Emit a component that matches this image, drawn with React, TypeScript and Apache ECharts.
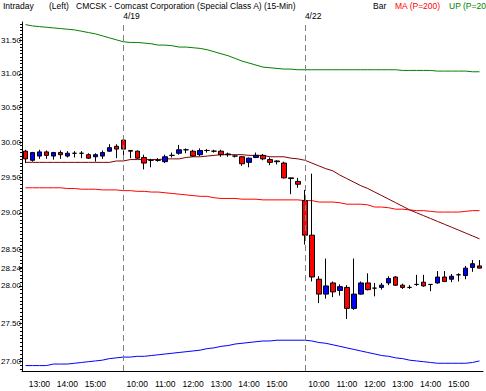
import React, { useEffect, useRef } from 'react';
import * as echarts from 'echarts';

// ---- data ----
const day1Times = ['12:30','12:45','13:00','13:15','13:30','13:45','14:00','14:15','14:30','14:45','15:00','15:15','15:30','15:45'];
const fullDayTimes = ['9:30','9:45','10:00','10:15','10:30','10:45','11:00','11:15','11:30','11:45','12:00','12:15','12:30','12:45','13:00','13:15','13:30','13:45','14:00','14:15','14:30','14:45','15:00','15:15','15:30','15:45'];
const sessionDates = ['4/18', '4/19', '4/22'];
const sessionTimes = [day1Times, fullDayTimes, fullDayTimes];

const opens = [29.87,29.74,29.80,29.86,29.80,29.85,29.80,29.84,29.84,29.82,29.79,29.80,29.87,29.94,
  30.03,29.88,29.87,29.78,29.74,29.74,29.72,29.81,29.84,29.89,29.87,29.82,29.88,29.87,29.87,29.83,29.80,29.79,29.71,29.78,29.81,29.75,29.73,29.70,29.49,29.44,
  29.17,28.69,28.09,27.89,28.04,27.94,27.98,27.70,27.89,28.04,27.97,27.98,28.04,28.12,28.01,27.98,28.02,28.05,28.02,28.04,28.12,28.09,28.15,28.14,28.25,28.27];
const highs = [29.89,29.86,29.89,29.88,29.86,29.88,29.87,29.87,29.87,29.84,29.84,29.88,29.97,29.97,
  30.08,29.88,29.88,29.82,29.76,29.77,29.82,29.85,29.96,29.91,29.89,29.91,29.90,29.89,29.89,29.85,29.81,29.80,29.78,29.85,29.83,29.78,29.74,29.72,29.49,29.49,
  29.32,29.55,28.13,28.37,28.06,28.02,28.01,28.37,28.06,28.17,28.04,28.04,28.13,28.13,28.03,28.01,28.15,28.15,28.02,28.20,28.20,28.16,28.17,28.27,28.35,28.35];
const lows = [29.70,29.72,29.76,29.76,29.75,29.76,29.78,29.78,29.77,29.76,29.72,29.76,29.86,29.77,
  29.74,29.77,29.76,29.61,29.64,29.72,29.70,29.78,29.82,29.84,29.79,29.80,29.85,29.85,29.79,29.79,29.78,29.66,29.64,29.77,29.74,29.67,29.68,29.48,29.26,29.35,
  28.56,28.06,27.77,27.83,27.85,27.87,27.56,27.68,27.88,27.94,27.86,27.95,28.01,28.00,27.96,27.96,28.00,27.99,27.93,28.03,28.05,28.05,28.06,28.09,28.19,28.24];
const closes = [29.76,29.85,29.86,29.81,29.85,29.82,29.84,29.84,29.84,29.77,29.82,29.85,29.92,29.90,
  29.90,29.87,29.77,29.70,29.74,29.74,29.79,29.81,29.89,29.89,29.80,29.88,29.88,29.87,29.82,29.82,29.80,29.69,29.77,29.81,29.76,29.71,29.72,29.49,29.48,29.40,
  28.69,28.12,27.89,28.00,27.92,27.99,27.70,27.89,28.04,27.95,27.97,28.01,28.10,28.01,27.98,27.98,28.02,28.00,28.02,28.12,28.06,28.13,28.15,28.24,28.30,28.24];

const upperBand = [31.74,31.72,31.71,31.70,31.69,31.68,31.67,31.66,31.64,31.62,31.60,31.57,31.54,31.51,31.48,
  31.47,31.47,31.46,31.45,31.43,31.43,31.42,31.40,31.40,31.39,31.38,
  31.36,31.33,31.30,31.27,31.23,31.19,31.16,31.13,31.10,31.09,31.08,31.07,31.07,31.06,
  31.06,31.06,31.06,31.06,31.06,31.06,31.06,31.06,31.06,31.06,31.06,31.06,31.06,31.06,
  31.05,31.05,31.05,31.05,31.05,31.04,31.04,31.04,31.04,31.04,31.03,31.03];
const ma200 = [29.35,29.35,29.35,29.35,29.35,29.35,29.34,29.34,29.33,29.33,29.33,
  29.32,29.32,29.32,29.31,29.31,29.30,29.30,29.29,29.29,29.28,29.27,29.26,29.25,29.24,29.23,
  29.23,29.21,29.20,29.20,29.20,29.19,29.19,29.19,29.18,29.18,29.18,29.18,29.18,29.18,
  29.17,29.17,29.15,29.15,29.15,29.14,29.12,29.12,29.12,29.11,29.08,29.08,29.07,29.05,29.05,29.04,
  29.03,29.03,29.02,29.01,29.01,29.01,29.01,29.02,29.03,29.03];
const maShort = [29.71,29.71,29.71,29.71,29.71,29.71,29.71,29.71,29.71,29.71,29.71,29.71,29.71,
  29.73,29.73,29.75,29.75,29.75,29.75,29.75,29.76,29.76,29.76,29.78,29.79,29.79,29.80,29.81,
  29.82,29.82,29.82,29.82,29.81,29.81,29.81,29.79,29.79,29.79,29.77,29.76,
  29.74,29.70,29.66,29.62,29.59,29.53,29.48,29.43,29.38,29.34,29.29,29.24,29.19,29.14,29.09,29.04,
  29.00,28.96,28.92,28.88,28.84,28.80,28.76,28.72,28.68,28.64];
const lowerBand = [26.95,26.95,26.95,26.95,26.97,26.97,26.97,26.98,26.99,
  27.00,27.01,27.02,27.04,27.05,27.06,
  27.06,27.07,27.07,27.08,27.09,27.10,27.11,27.12,27.13,27.14,27.15,
  27.17,27.18,27.20,27.21,27.23,27.24,27.25,27.26,27.27,27.27,27.28,27.28,27.28,27.28,
  27.28,27.27,27.25,27.24,27.22,27.20,27.18,27.16,27.14,27.12,27.10,27.08,27.07,27.05,27.04,27.02,
  27.01,27.00,26.99,26.98,26.98,26.98,26.98,26.98,26.99,27.01];

const priceTicks = [27.0, 27.5, 28.0, 28.5, 29.0, 29.5, 30.0, 30.5, 31.0, 31.5];
const minorTickStep = 0.05;
const yMin = 26.88;
const yMax = 31.78;

const headerTexts = [
  { text: 'Intraday', color: '#000000' },
  { text: '(Left)', color: '#000000' },
  { text: 'CMCSK - Comcast Corporation (Special Class A) (15-Min)', color: '#000000' },
  { text: 'Bar', color: '#000000' },
  { text: 'MA (P=200)', color: '#ff0000' },
  { text: 'UP (P=200)', color: '#008000' },
];
const headerX = [3, 49, 76, 373, 395, 449];

const FONT = '"Liberation Sans", Arial, sans-serif';
const FS = 8.5;
const YFS = 8;

export default function App() {
  const ref = useRef<HTMLDivElement>(null);
  useEffect(() => {
    if (!ref.current) return;
    const chart = echarts.init(ref.current, null, { renderer: 'svg' });
    const ln = Math.log;

    const categories: string[] = [];
    const dayStarts: { idx: number; date: string }[] = [];
    sessionDates.forEach((d, k) => {
      dayStarts.push({ idx: categories.length, date: d });
      sessionTimes[k].forEach((t) => categories.push(d + ' ' + t));
    });

    const candleData = opens.map((o, i) => [ln(o), ln(closes[i]), ln(lows[i]), ln(highs[i])]);
    const lastClose = closes[closes.length - 1];
    const labelTicks = [...priceTicks, lastClose].sort((a, b) => a - b).map(ln);
    const minorTicks: number[] = [];
    for (let p = Math.ceil(yMin / minorTickStep) * minorTickStep; p <= yMax; p += minorTickStep) {
      minorTicks.push(ln(Math.round(p * 100) / 100));
    }

    const lineSeries = (name: string, data: number[], color: string) => ({
      name,
      type: 'line',
      data: data.map(ln),
      showSymbol: false,
      symbol: 'none',
      lineStyle: { color, width: 1 },
      z: 2,
      silent: true,
    });

    chart.setOption({
      animation: false,
      backgroundColor: '#ffffff',
      grid: { left: 22, right: 3, top: 22, bottom: 20, outerBoundsMode: 'none' },
      xAxis: {
        type: 'category',
        data: categories,
        boundaryGap: true,
        axisLine: { lineStyle: { color: '#000000', width: 1 } },
        axisTick: { interval: 0, alignWithLabel: true, length: 4, lineStyle: { color: '#000000' } },
        axisLabel: {
          interval: (_i: number, v: string) => v.endsWith(':00'),
          formatter: (v: string) => v.split(' ')[1],
          fontSize: FS,
          fontFamily: FONT,
          color: '#000000',
          margin: 8,
        },
        splitLine: { show: false },
      },
      yAxis: [
        {
          type: 'value',
          min: ln(yMin),
          max: ln(yMax),
          position: 'left',
          axisLine: { show: true, lineStyle: { color: '#000000', width: 1 } },
          axisTick: { show: true, length: 3, customValues: labelTicks, lineStyle: { color: '#000000' } },
          axisLabel: {
            customValues: labelTicks,
            formatter: (v: number) => Math.exp(v).toFixed(2),
            fontSize: YFS,
            fontFamily: FONT,
            color: '#000000',
            margin: 1,
          },
          splitLine: { show: false },
        },
        {
          type: 'value',
          min: ln(yMin),
          max: ln(yMax),
          position: 'left',
          axisLine: { show: false },
          axisTick: { show: true, length: 2, customValues: minorTicks, lineStyle: { color: '#000000' } },
          axisLabel: { show: false },
          splitLine: { show: false },
        },
      ],
      graphic: headerTexts.map((h, i) => ({
        type: 'text',
        left: headerX[i],
        top: 1,
        style: { text: h.text, fill: h.color, font: `${FS}px ${FONT}` },
      })),
      series: [
        lineSeries('UP (P=200)', upperBand, '#008000'),
        lineSeries('MA (P=200)', ma200, '#ff0000'),
        lineSeries('MA', maShort, '#800000'),
        lineSeries('DN', lowerBand, '#0000ff'),
        {
          name: 'Bar',
          type: 'candlestick',
          data: candleData,
          barWidth: 5,
          z: 3,
          itemStyle: {
            color: '#0000ff',
            color0: '#ff0000',
            borderColor: '#000000',
            borderColor0: '#000000',
            borderWidth: 1,
          },
          markLine: {
            silent: true,
            symbol: ['none', 'none'],
            lineStyle: { color: '#808080', type: [6, 4], width: 1 },
            label: {
              show: true,
              position: 'end',
              formatter: '{b}',
              distance: 2,
              align: 'left',
              fontSize: FS,
              fontFamily: FONT,
              color: '#000000',
            },
            data: dayStarts.slice(1).map((d) => ({ xAxis: d.idx, name: d.date })),
          },
        },
      ],
    });
    return () => chart.dispose();
  }, []);
  return <div ref={ref} style={{ position: 'fixed', left: 0, top: 0, width: 486, height: 391 }} />;
}
